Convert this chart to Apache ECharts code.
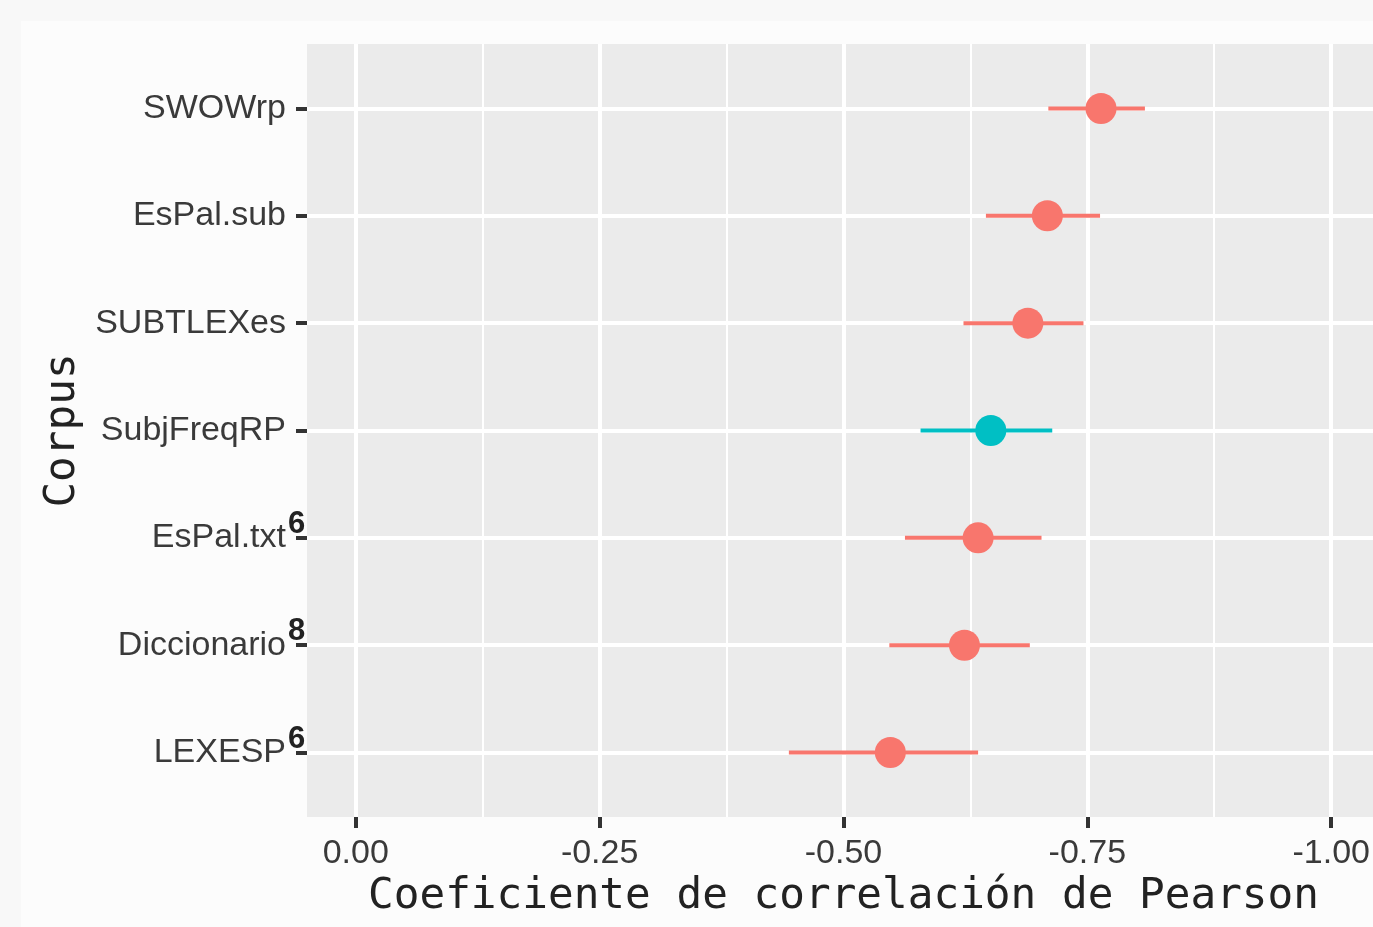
<!DOCTYPE html>
<html>
<head>
<meta charset="utf-8">
<script src="https://cdn.jsdelivr.net/npm/echarts@6/dist/echarts.min.js"></script>
<style>
  html, body { margin: 0; padding: 0; background: #f8f8f8; }
  #frame { position: absolute; left: 21px; top: 21px; right: 0; bottom: 0; background: #fcfcfc; }
  #chart { position: absolute; left: 0; top: 0; width: 1373px; height: 927px; }
</style>
</head>
<body>
<div id="frame"></div>
<div id="chart"></div>
<script>
// ---- data (top to bottom) ----
const categories = ['SWOWrp', 'EsPal.sub', 'SUBTLEXes', 'SubjFreqRP', 'EsPal.txt', 'Diccionario', 'LEXESP'];
const superscripts = ['', '', '', '', '6', '8', '6'];
const estimates = [-0.764, -0.709, -0.689, -0.651, -0.638, -0.624, -0.548];
const ciLow = [-0.710, -0.646, -0.623, -0.579, -0.563, -0.547, -0.444];
const ciHigh = [-0.809, -0.763, -0.746, -0.714, -0.703, -0.691, -0.638];
const groups = ['other', 'other', 'other', 'subj', 'other', 'other', 'other'];
const xMajorTicks = [0, -0.25, -0.5, -0.75, -1.0];
const xMinorTicks = [-0.125, -0.375, -0.625, -0.875];
const xAxisTitle = 'Coeficiente de correlación de Pearson';
const yAxisTitle = 'Corpus';

const colorMap = { other: '#F8766D', subj: '#00BFC4' };
const catIdx = categories.map((c, i) => i);

const chart = echarts.init(document.getElementById('chart'), null, { renderer: 'canvas' });

const option = {
  backgroundColor: 'transparent',
  animation: false,
  grid: {
    show: true,
    left: 307, top: 44, width: 1073, height: 773,
    backgroundColor: '#EBEBEB',
    borderWidth: 0,
    containLabel: false,
    outerBoundsMode: 'none'
  },
  xAxis: {
    type: 'value',
    inverse: true,
    min: -1.05,
    max: 0.05,
    name: xAxisTitle,
    nameLocation: 'middle',
    nameGap: 58,
    nameTextStyle: { fontFamily: 'DejaVu Sans Mono', fontSize: 42.7, color: '#222222' },
    axisLine: { show: false, onZero: false },
    axisTick: { show: true, customValues: xMajorTicks, length: 11, lineStyle: { color: '#333333', width: 4 } },
    axisLabel: {
      customValues: xMajorTicks,
      formatter: v => v.toFixed(2),
      fontFamily: 'Liberation Sans', fontSize: 34, color: '#3a3a3a', margin: 20
    },
    splitLine: { show: true, lineStyle: { color: '#ffffff', width: 4 } },
    minorSplitLine: { show: false }
  },
  yAxis: {
    type: 'value',
    inverse: true,
    min: -0.6,
    max: 6.6,
    name: yAxisTitle,
    nameLocation: 'middle',
    nameGap: 223,
    nameRotate: 90,
    nameTextStyle: { fontFamily: 'DejaVu Sans Mono', fontSize: 42.7, color: '#222222' },
    axisLine: { show: false, onZero: false },
    axisTick: { show: true, customValues: catIdx, length: 11, lineStyle: { color: '#333333', width: 4 } },
    axisLabel: {
      customValues: catIdx,
      margin: 2,
      formatter: v => {
        const i = Math.round(v);
        const s = superscripts[i];
        return '{m|' + categories[i] + '}' + (s ? '{s|' + s + '}' : '{p| }');
      },
      rich: {
        m: { fontFamily: 'Liberation Sans', fontSize: 34, color: '#3a3a3a', lineHeight: 58 },
        p: { fontFamily: 'Liberation Sans', fontSize: 10, width: 19, lineHeight: 10 },
        s: { fontFamily: 'Liberation Sans', fontSize: 31, fontWeight: 'bold', color: '#222222',
             lineHeight: 16, verticalAlign: 'top', width: 17, align: 'left', padding: [0, 0, 0, 2] }
      }
    },
    splitLine: { show: true, lineStyle: { color: '#ffffff', width: 4 } }
  },
  series: [
    {
      type: 'custom',
      name: 'ci',
      z: 3,
      data: catIdx.map(i => [ciLow[i], ciHigh[i], i]),
      encode: { x: [0, 1], y: 2 },
      renderItem: (params, api) => {
        const y = api.value(2);
        const p1 = api.coord([api.value(0), y]);
        const p2 = api.coord([api.value(1), y]);
        return {
          type: 'line',
          shape: { x1: p1[0], y1: p1[1], x2: p2[0], y2: p2[1] },
          style: { stroke: colorMap[groups[params.dataIndex]], lineWidth: 4, lineCap: 'butt' }
        };
      },
      markLine: {
        silent: true,
        z: 1,
        symbol: 'none',
        label: { show: false },
        emphasis: { disabled: true },
        lineStyle: { color: '#ffffff', width: 2, type: 'solid', opacity: 1 },
        data: xMinorTicks.map(v => ({ xAxis: v }))
      }
    },
    {
      type: 'scatter',
      name: 'r',
      z: 4,
      symbol: 'circle',
      symbolSize: 31,
      data: catIdx.map(i => [estimates[i], i]),
      itemStyle: { color: p => colorMap[groups[p.dataIndex]], opacity: 1 },
      emphasis: { disabled: true }
    }
  ]
};
chart.setOption(option);
</script>
</body>
</html>
